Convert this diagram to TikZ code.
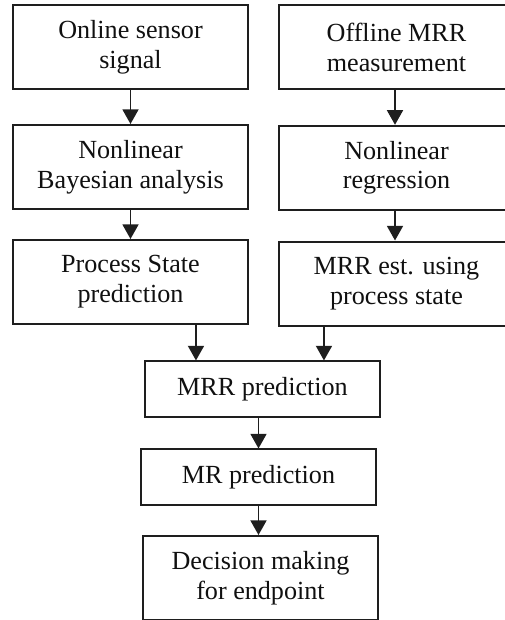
\documentclass[tikz,border=0pt]{standalone}
\usepackage{fontspec}
\setmainfont{Liberation Serif}
\usetikzlibrary{arrows.meta,calc,positioning}
\definecolor{FlowLine}{HTML}{1E1E1E}
\definecolor{FlowText}{HTML}{101010}
\tikzset{
  stagebox/.style={draw=FlowLine,line width=1.5pt,inner sep=0pt,
    minimum width=176.3pt,align=center,text=FlowText,
    font=\fontsize{19.6}{22.4}\selectfont},
  tallbox/.style={stagebox,minimum height=63pt},
  flatbox/.style={stagebox,minimum height=41.3pt},
  flowarrow/.style={draw=FlowLine,line width=1.35pt,
    -{Triangle[width=12pt,length=11pt]}}
}

\begin{document}
\begin{tikzpicture}[x=0.75pt,y=-0.75pt]
        \useasboundingbox (0,0) rectangle (504,620);

        % two input columns
        \node[tallbox] (sig) at (130.5,47.5) {Online sensor\\signal};
        \node[tallbox] (nba) at (130.5,167) {Nonlinear\\Bayesian analysis};
        \node[tallbox] (ps) at (130.5,282) {Process State\\prediction};

        \node[tallbox] (mrrm) at (396.5,47.5) {Offline MRR\\measurement};
        \node[tallbox] (nlr) at (396.5,167.8) {Nonlinear\\regression};
        \node[tallbox] (est) at (396.5,283.5) {MRR est. using\\process state};

        % merged chain
        \node[flatbox] (mrr) at (262.5,389) {MRR prediction};
        \node[flatbox] (mr) at (258.5,477) {MR prediction};
        \node[tallbox] (dec) at (260.5,578) {Decision making\\for endpoint};

        \draw[flowarrow] (sig) -- (nba);
        \draw[flowarrow] (nba) -- (ps);
        \draw[flowarrow] (mrrm.south -| 395,0) -- (nlr.north -| 395,0);
        \draw[flowarrow] (nlr.south -| 395,0) -- (est.north -| 395,0);

        \draw[flowarrow] ([xshift=49.1pt]ps.south)
          -- ([xshift=49.1pt]ps.south |- mrr.north);
        \draw[flowarrow] ([xshift=-54.4pt]est.south)
          -- ([xshift=-54.4pt]est.south |- mrr.north);

        \draw[flowarrow] (mr.north |- mrr.south) -- (mr.north);
        \draw[flowarrow] (mr.south) -- (mr.south |- dec.north);
      \end{tikzpicture}
\end{document}
